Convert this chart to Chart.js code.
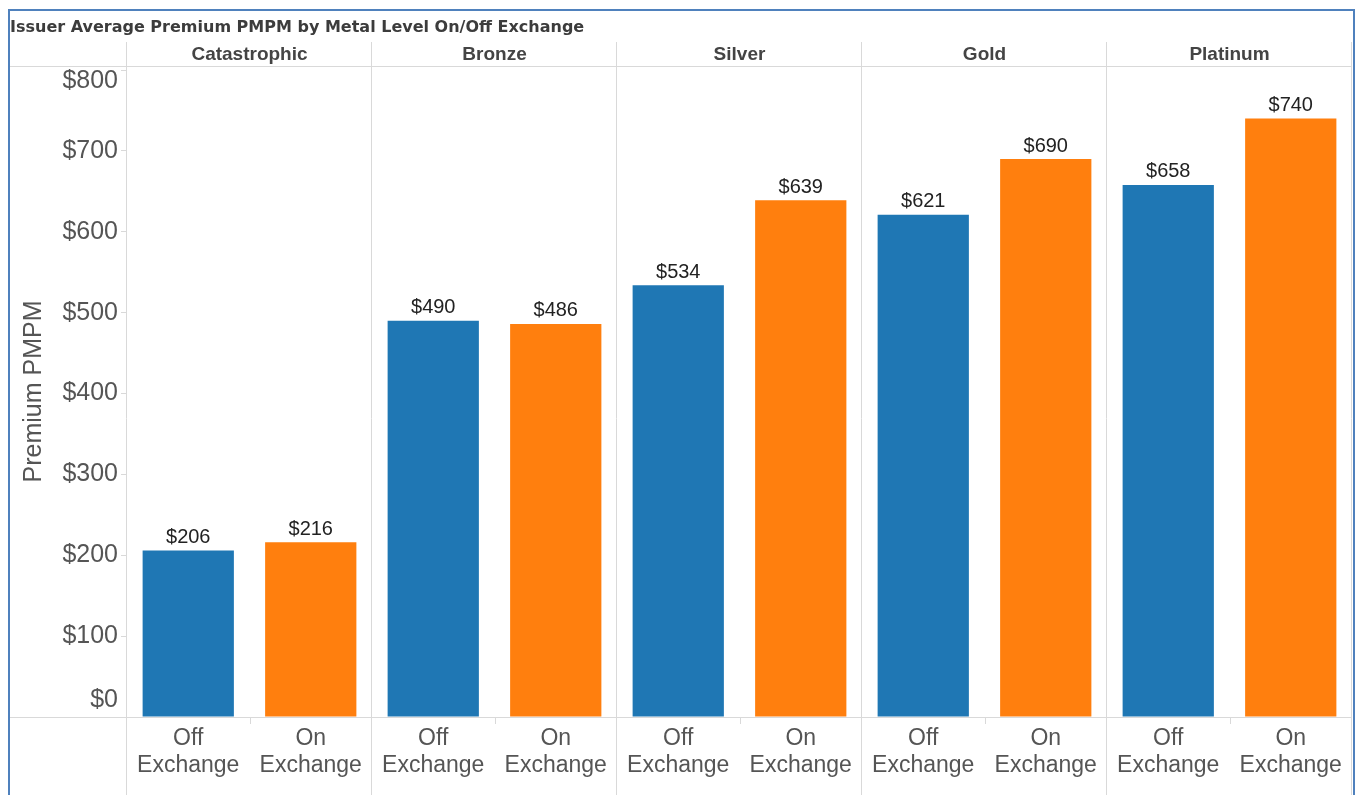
<!DOCTYPE html>
<html>
<head>
<meta charset="utf-8">
<script src="https://cdn.jsdelivr.net/npm/chart.js@4"></script>
<style>
  body { margin: 0; background: #fff; }
  canvas { display: block; }
</style>
</head>
<body>
<canvas id="premiumChart" width="1355" height="795"></canvas>
<script>
// Metal levels (top header) and exchange types (bottom axis)
const metal_Levels = ["Catastrophic", "Bronze", "Silver", "Gold", "Platinum"];
const exchange_Types = [["Off", "Exchange"], ["On", "Exchange"]];

// Average premium PMPM per metal level
const off_Exchange = [206, 490, 534, 621, 658];
const on_Exchange = [216, 486, 639, 690, 740];

// Y axis tick values
const y_Ticks = [0, 100, 200, 300, 400, 500, 600, 700, 800];

const chart_Title = "Issuer Average Premium PMPM by Metal Level On/Off Exchange";
const blue = "#1f77b4";
const orange = "#ff7f0e";
const line_Color = "#d9d9d9";
const font_Family = "'Liberation Sans', Arial, sans-serif";

// one bar per metal level / exchange pair
let labels = [];
let values = [];
let colors = [];
metal_Levels.forEach((level, i) => {
    labels.push(exchange_Types[0], exchange_Types[1]);
    values.push(off_Exchange[i], on_Exchange[i]);
    colors.push(blue, orange);
});

const y_Min = y_Ticks[0];
const y_Top = y_Ticks[y_Ticks.length - 1];

// Draws the header row, panel lines, frame and value labels
const tableau_Frame = {
    id: "tableau_Frame",
    afterDatasetsDraw(chart) {
        const ctx = chart.ctx;
        const meta = chart.getDatasetMeta(0);
        ctx.save();
        ctx.font = "20px " + font_Family;
        ctx.fillStyle = "#222";
        ctx.textAlign = "center";
        ctx.textBaseline = "middle";
        meta.data.forEach((bar, i) => {
            ctx.fillText("$" + values[i], bar.x, bar.y - 13);
        });
        ctx.restore();
    },
    afterDraw(chart) {
        const ctx = chart.ctx;
        const area = chart.chartArea;
        const x = chart.scales.x;
        const H = chart.height;
        const step = (area.right - area.left) / labels.length;
        const frame_Left = 8;
        const header_Top = 42;

        ctx.save();
        ctx.strokeStyle = line_Color;
        ctx.lineWidth = 1;
        ctx.beginPath();
        ctx.moveTo(frame_Left, Math.round(area.top) + 0.5);
        ctx.lineTo(area.right, Math.round(area.top) + 0.5);
        ctx.moveTo(frame_Left, Math.round(area.bottom) + 0.5);
        ctx.lineTo(area.right, Math.round(area.bottom) + 0.5);
        for (let g = 0; g <= metal_Levels.length; g++) {
            const px = Math.round(area.left + g * 2 * step) - 0.5;
            ctx.moveTo(px, header_Top);
            ctx.lineTo(px, H);
        }
        for (let g = 0; g < metal_Levels.length; g++) {
            const px = Math.round(area.left + (g * 2 + 1) * step) + 0.5;
            ctx.moveTo(px, area.bottom);
            ctx.lineTo(px, area.bottom + 7);
        }
        ctx.stroke();

        // metal level headers
        ctx.font = "bold 19px " + font_Family;
        ctx.fillStyle = "#444";
        ctx.textAlign = "center";
        ctx.textBaseline = "middle";
        metal_Levels.forEach((level, g) => {
            const cx = (x.getPixelForValue(2 * g) + x.getPixelForValue(2 * g + 1)) / 2;
            ctx.fillText(level, cx, 55);
        });

        // sheet title
        ctx.font = "bold 16px 'DejaVu Sans', sans-serif";
        ctx.fillStyle = "#3c3c3c";
        ctx.textAlign = "left";
        ctx.fillText(chart_Title, 10, 28);

        // blue outer frame
        ctx.strokeStyle = "#4f81bd";
        ctx.lineWidth = 2;
        ctx.beginPath();
        ctx.moveTo(9, H);
        ctx.lineTo(9, 10);
        ctx.lineTo(1354, 10);
        ctx.lineTo(1354, H);
        ctx.stroke();
        ctx.restore();
    }
};

new Chart(document.getElementById("premiumChart"), {
    type: "bar",
    data: {
        labels: labels,
        datasets: [{
            data: values,
            backgroundColor: colors,
            barPercentage: 0.745,
            categoryPercentage: 1
        }]
    },
    options: {
        responsive: false,
        animation: false,
        layout: { padding: { top: 66, right: 3, left: 0, bottom: 0 } },
        plugins: {
            legend: { display: false },
            tooltip: { enabled: false }
        },
        scales: {
            x: {
                grid: { display: false },
                border: { display: false },
                ticks: {
                    color: "#555",
                    font: { family: font_Family, size: 23, lineHeight: 1.17 },
                    padding: 0,
                    maxRotation: 0,
                    autoSkip: false
                },
                afterFit(scale) { scale.height = 78; }
            },
            y: {
                min: 0,
                max: 805,
                afterBuildTicks(scale) {
                    scale.ticks = y_Ticks.map(v => ({ value: v }));
                },
                grid: { drawOnChartArea: false, tickLength: 6, color: line_Color },
                border: { display: false },
                ticks: {
                    color: "#555",
                    // end labels sit inside the axis, like the original
                    font: ctx => {
                        const v = ctx.tick ? ctx.tick.value : null;
                        let lh = 1.2;
                        if (v === y_Top) lh = "22px";
                        if (v === y_Min) lh = "34px";
                        return { family: font_Family, size: 25, lineHeight: lh };
                    },
                    padding: 3,
                    callback: v => {
                        if (v === y_Top) return ["", "$" + v];
                        if (v === y_Min) return ["$" + v, ""];
                        return "$" + v;
                    }
                },
                title: {
                    display: true,
                    text: "Premium PMPM",
                    color: "#555",
                    font: { family: font_Family, size: 25 },
                    padding: { top: 19, bottom: 0 }
                },
                afterFit(scale) { scale.width = 127; }
            }
        }
    },
    plugins: [tableau_Frame]
});
</script>
</body>
</html>
